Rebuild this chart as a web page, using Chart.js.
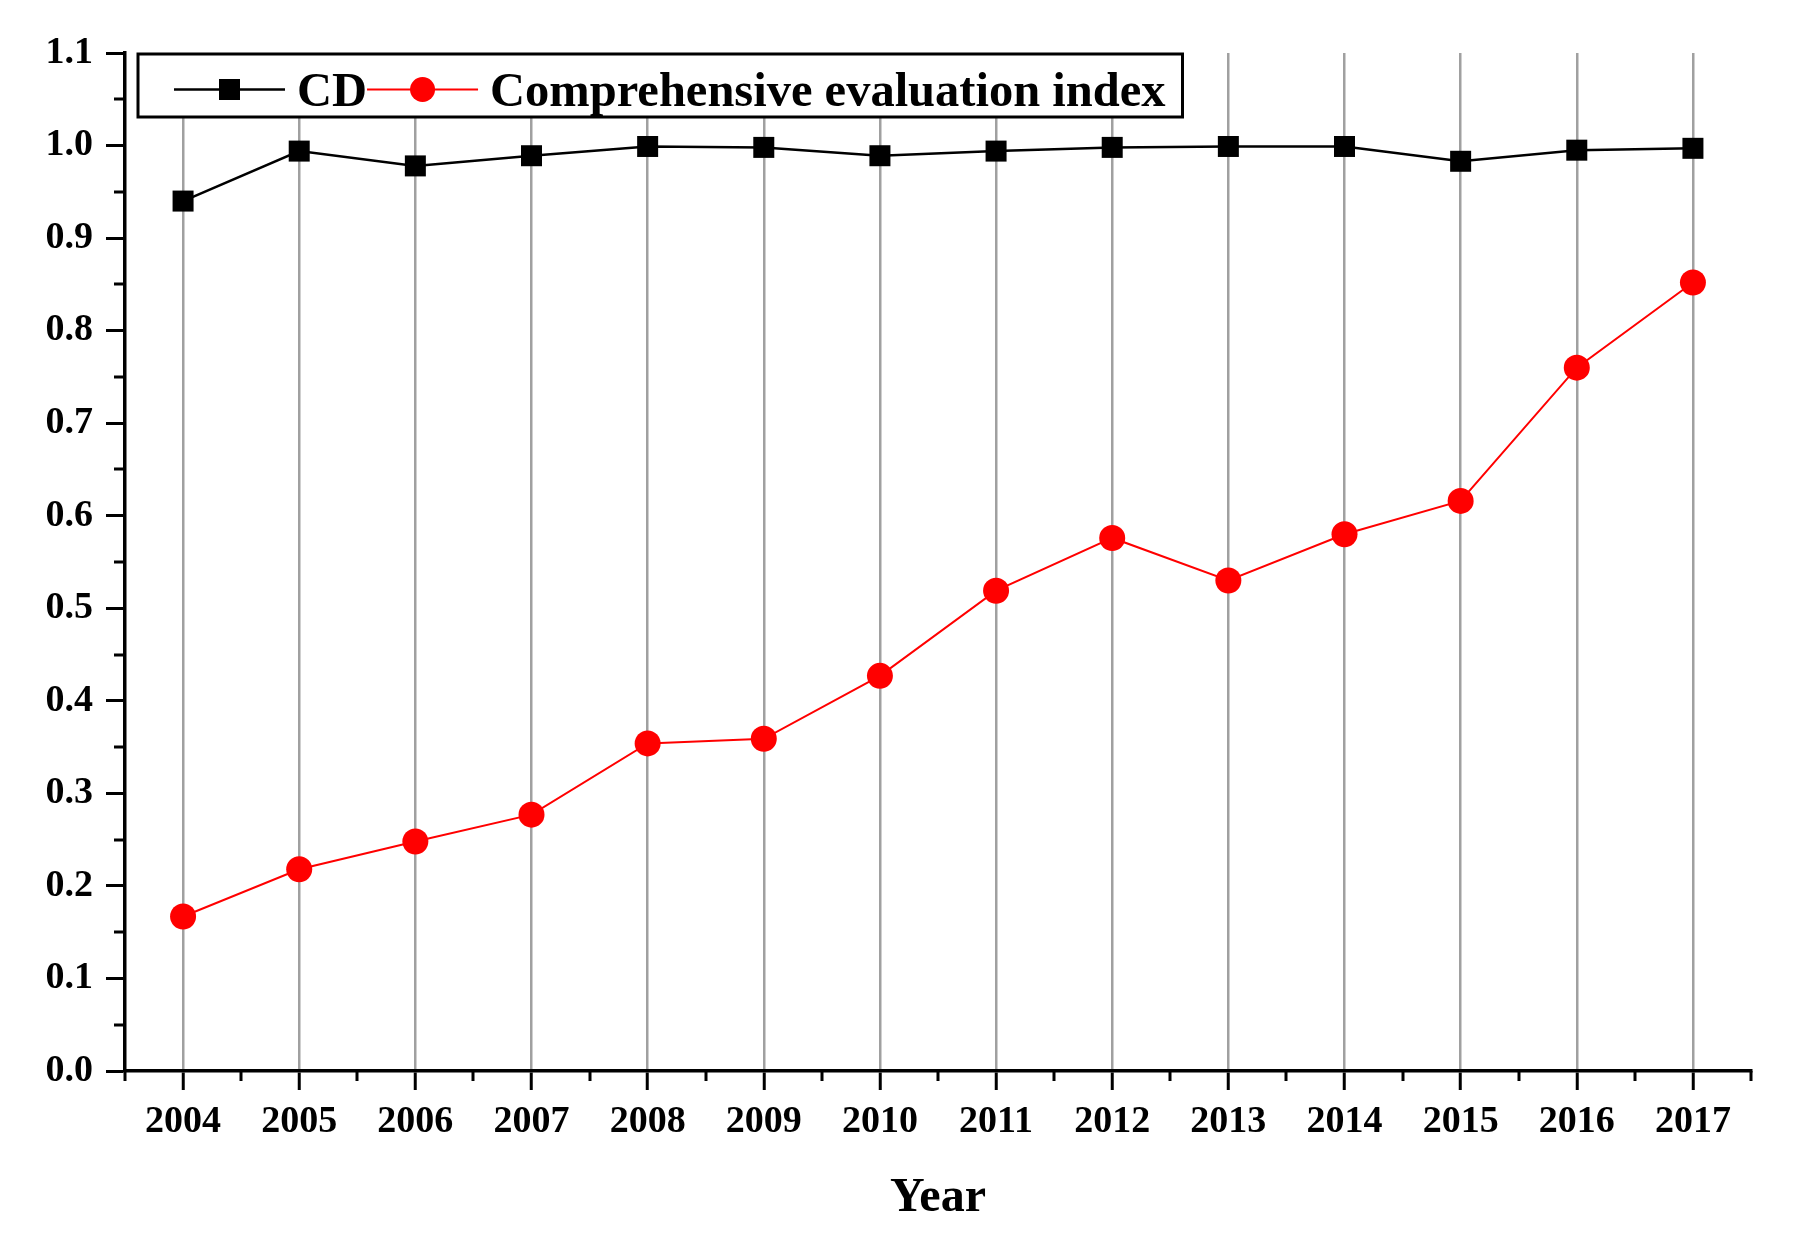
<!DOCTYPE html>
<html>
<head>
<meta charset="utf-8">
<title>CD and Comprehensive evaluation index</title>
<script src="https://cdn.jsdelivr.net/npm/chart.js@4.4.1/dist/chart.umd.min.js"></script>
<style>
    html, body { margin: 0; padding: 0; background: #fff; }
    #wrap { width: 1805px; height: 1255px; }
</style>
</head>
<body>
<div id="wrap">
    <canvas id="lineChart" width="1805" height="1255"></canvas>
</div>
<script>
var years = ["2004", "2005", "2006", "2007", "2008", "2009", "2010",
             "2011", "2012", "2013", "2014", "2015", "2016", "2017"];

var cdValues = [0.940, 0.994, 0.978, 0.989, 0.999, 0.998, 0.989,
                0.994, 0.998, 0.999, 0.999, 0.983, 0.995, 0.997];

var indexValues = [0.167, 0.218, 0.248, 0.277, 0.354, 0.359, 0.427,
                   0.519, 0.576, 0.530, 0.580, 0.616, 0.760, 0.852];

var yTicks = [0.0, 0.1, 0.2, 0.3, 0.4, 0.5, 0.6, 0.7, 0.8, 0.9, 1.0, 1.1];
var yMinorTicks = [0.05, 0.15, 0.25, 0.35, 0.45, 0.55, 0.65, 0.75, 0.85, 0.95, 1.05];

var seriesNames = ["CD", "Comprehensive evaluation index"];

var serif = "'Liberation Serif', 'Times New Roman', serif";

// minor ticks on both axes (short ones between the labelled ticks)
var minorTicks = {
    id: 'minorTicks',
    afterDraw: function (chart) {
        var ctx = chart.ctx;
        var xs = chart.scales.x;
        var ys = chart.scales.y;
        var area = chart.chartArea;
        ctx.save();
        ctx.strokeStyle = "#000";
        ctx.lineWidth = 3;
        ctx.beginPath();
        // y axis
        for (var i = 0; i < yMinorTicks.length; i++) {
            var py = Math.round(ys.getPixelForValue(yMinorTicks[i]));
            ctx.moveTo(area.left - 11, py);
            ctx.lineTo(area.left, py);
        }
        // x axis: ends and half way between years
        var xsMinor = [area.left, area.right];
        for (var j = 0; j < years.length - 1; j++) {
            xsMinor.push((xs.getPixelForValue(j) + xs.getPixelForValue(j + 1)) / 2);
        }
        for (var k = 0; k < xsMinor.length; k++) {
            var px = Math.round(xsMinor[k]);
            ctx.moveTo(px, area.bottom);
            ctx.lineTo(px, area.bottom + 10);
        }
        ctx.stroke();
        ctx.restore();
    }
};

// boxed legend inside the plot, line + marker like the original
var boxLegend = {
    id: 'boxLegend',
    afterDraw: function (chart) {
        var ctx = chart.ctx;
        var area = chart.chartArea;
        var x0 = area.left + 13;
        var top = area.top + 1;
        var h = 63;
        var cy = top + h / 2 + 4;
        ctx.save();
        ctx.font = "bold 48.5px " + serif;
        var w1 = ctx.measureText(seriesNames[0]).width;
        var w2 = ctx.measureText(seriesNames[1]).width;
        var line = 111;
        var x = x0 + 36;
        var pos1 = x;
        x += line + 12;
        var text1 = x;
        x += w1;
        var pos2 = x;
        x += line + 12;
        var text2 = x;
        x += w2 + 17;

        ctx.fillStyle = "#fff";
        ctx.fillRect(x0, top, x - x0, h);
        ctx.strokeStyle = "#000";
        ctx.lineWidth = 3;
        ctx.strokeRect(x0, top, x - x0, h);

        // CD sample
        ctx.lineWidth = 2.5;
        ctx.beginPath();
        ctx.moveTo(pos1, cy);
        ctx.lineTo(pos1 + line, cy);
        ctx.stroke();
        ctx.fillStyle = "#000";
        ctx.fillRect(pos1 + line / 2 - 10.5, cy - 10.5, 21, 21);

        // index sample
        ctx.strokeStyle = "#ff0000";
        ctx.lineWidth = 2;
        ctx.beginPath();
        ctx.moveTo(pos2, cy);
        ctx.lineTo(pos2 + line, cy);
        ctx.stroke();
        ctx.fillStyle = "#ff0000";
        ctx.beginPath();
        ctx.arc(pos2 + line / 2, cy, 12.5, 0, Math.PI * 2);
        ctx.fill();

        ctx.fillStyle = "#000";
        ctx.textBaseline = "alphabetic";
        ctx.textAlign = "left";
        ctx.fillText(seriesNames[0], text1, cy + 16);
        ctx.fillText(seriesNames[1], text2, cy + 16);
        ctx.restore();
    }
};

var lineData = {
    labels: years,
    datasets: [
        {
            label: seriesNames[0],
            data: cdValues,
            borderColor: "#000",
            backgroundColor: "#000",
            borderWidth: 2.5,
            pointStyle: 'rect',
            pointRadius: 14.85,
            pointBorderWidth: 0,
            pointBackgroundColor: "#000",
            tension: 0
        },
        {
            label: seriesNames[1],
            data: indexValues,
            borderColor: "#ff0000",
            backgroundColor: "#ff0000",
            borderWidth: 2,
            pointStyle: 'circle',
            pointRadius: 13,
            pointBorderWidth: 0,
            pointBackgroundColor: "#ff0000",
            tension: 0
        }
    ]
};

var lineOptions = {
    responsive: false,
    devicePixelRatio: 1,
    animation: false,
    clip: false,
    layout: { padding: { left: 0, top: 53, right: 54, bottom: 0 } },
    plugins: {
        legend: { display: false },
        tooltip: { enabled: false }
    },
    scales: {
        x: {
            type: 'category',
            offset: true,
            afterFit: function (scale) { scale.height = 184; },
            grid: {
                display: true,
                drawOnChartArea: true,
                color: "#a0a0a0",
                lineWidth: 2.5,
                drawTicks: true,
                tickLength: 19,
                tickColor: "#000",
                tickWidth: 3
            },
            border: { display: true, color: "#000", width: 3.5 },
            ticks: {
                color: "#000",
                padding: 9,
                maxRotation: 0,
                autoSkip: false,
                font: { family: serif, size: 38, weight: 'bold' }
            },
            title: {
                display: true,
                text: "Year",
                color: "#000",
                padding: { top: 0, bottom: 28 },
                font: { family: serif, size: 48, weight: 'bold' }
            }
        },
        y: {
            min: 0,
            max: 1.1,
            afterFit: function (scale) { scale.width = 125; },
            afterBuildTicks: function (scale) {
                scale.ticks = yTicks.map(function (v) { return { value: v }; });
            },
            grid: {
                display: true,
                drawOnChartArea: false,
                drawTicks: true,
                tickLength: 19,
                tickColor: "#000",
                tickWidth: 3
            },
            border: { display: true, color: "#000", width: 3.5 },
            ticks: {
                color: "#000",
                padding: 13,
                font: { family: serif, size: 38, weight: 'bold' },
                callback: function (v) { return Number(v).toFixed(1); }
            }
        }
    }
};

document.addEventListener("DOMContentLoaded", function () {
    var ctx = document.getElementById("lineChart").getContext("2d");
    new Chart(ctx, {type: 'line', data: lineData, options: lineOptions, plugins: [minorTicks, boxLegend]});
});
</script>
</body>
</html>
